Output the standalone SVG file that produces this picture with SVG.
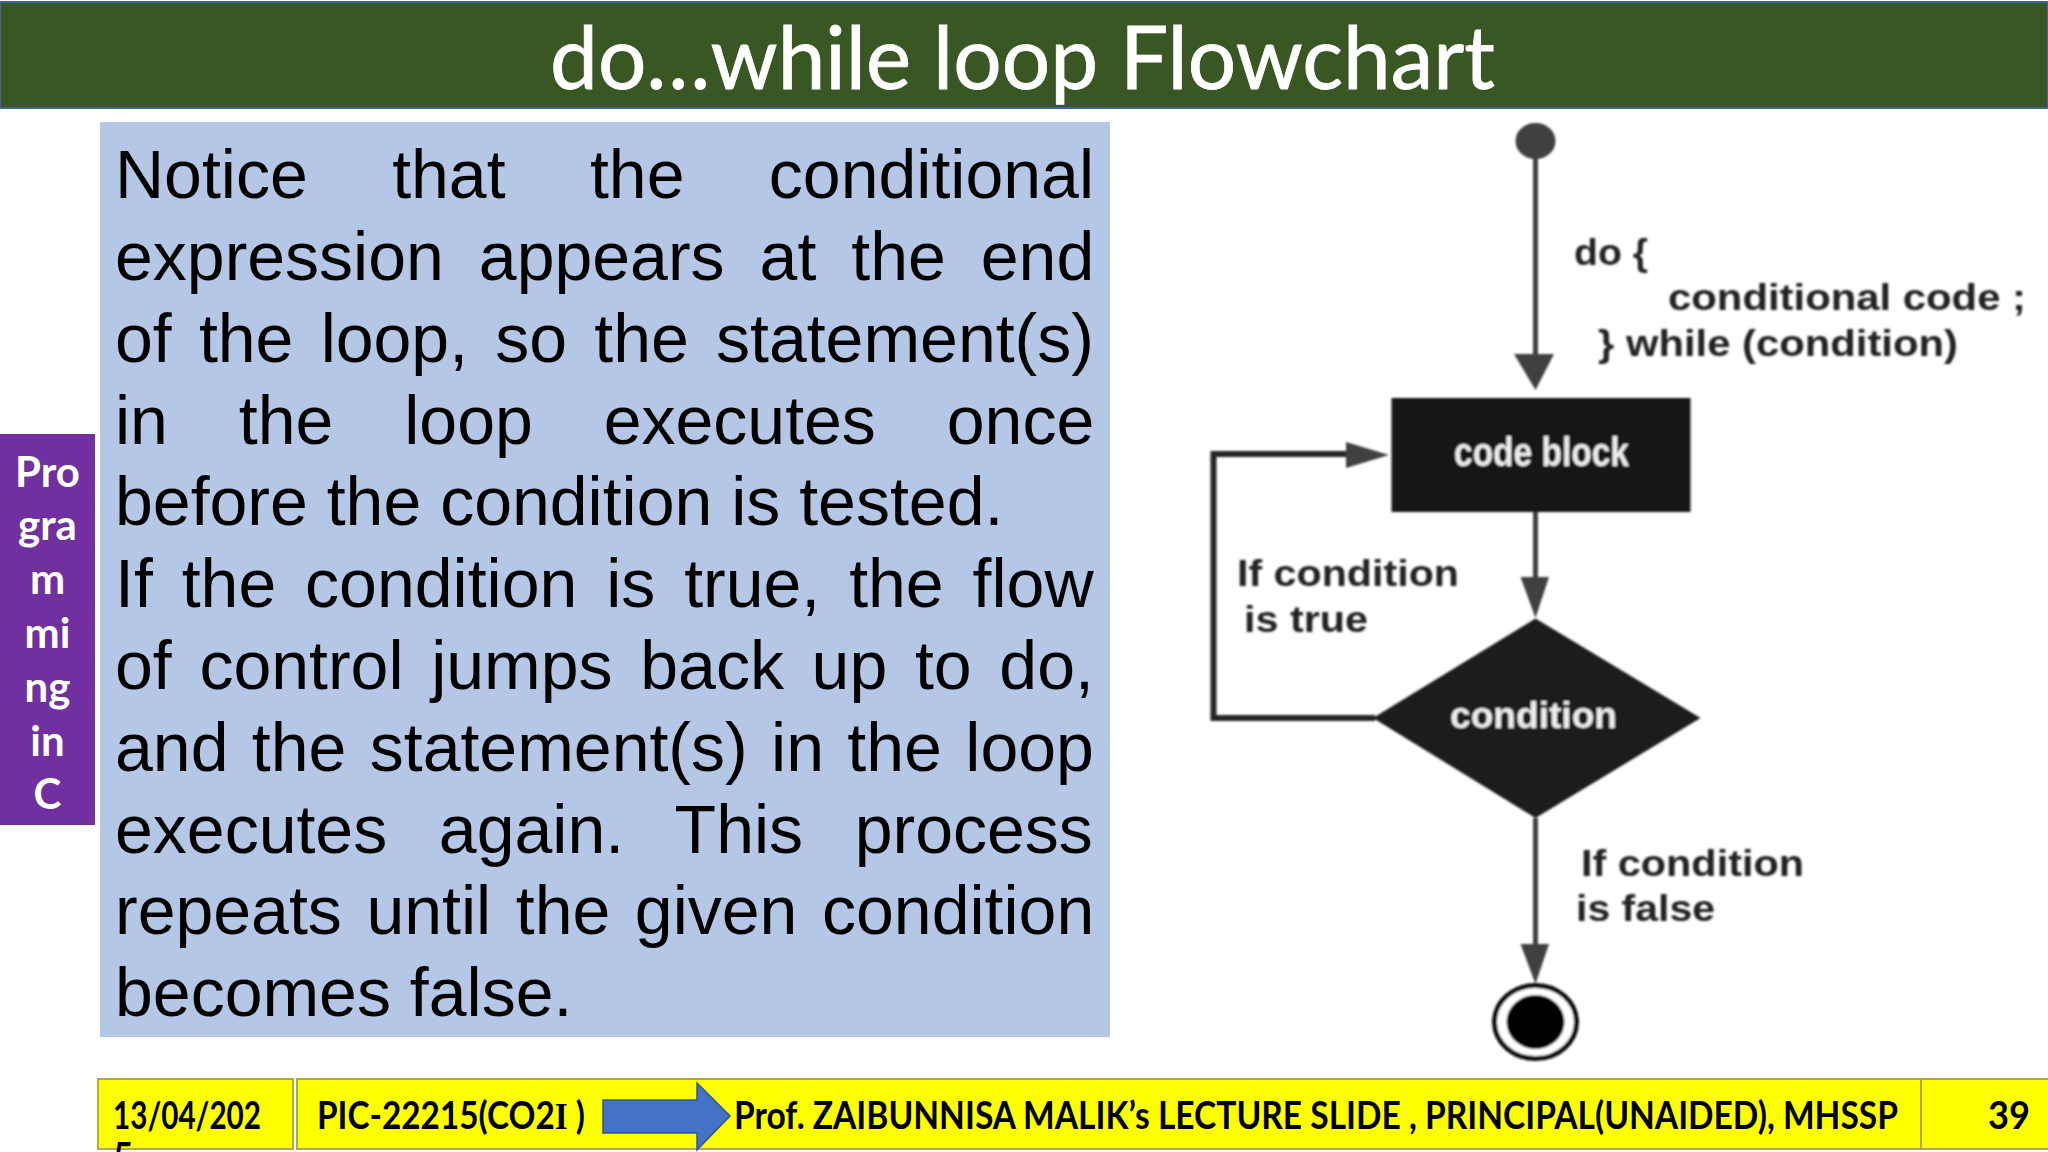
<svg xmlns="http://www.w3.org/2000/svg" width="2048" height="1152" viewBox="0 0 2048 1152">
<defs><filter id="soft" x="-5%" y="-5%" width="110%" height="110%"><feGaussianBlur stdDeviation="0.8"/></filter></defs>
<style>
.body{font-family:"Liberation Sans",Arial,sans-serif;font-size:68px;fill:#000}
.side{font-family:Lato,"Open Sans",sans-serif;font-weight:700;font-size:42px;fill:#fff;text-anchor:middle}
.foot{font-family:Lato,"Open Sans",sans-serif;font-weight:700;font-size:35px;fill:#000}
.fc{font-family:"Liberation Sans",Arial,sans-serif;font-weight:700;font-size:37px;fill:#222}
.fcw{fill:#eee}
.cell{fill:#ff0;stroke:#b5ab3c;stroke-width:2}
.wire{fill:none;stroke:#404040;stroke-width:5}
.head{fill:#404040}
</style>
<rect width="2048" height="1152" fill="#fff"/>
<g id="title">
<rect x="0" y="2" width="2048" height="106" fill="#385723" stroke="#41659c" stroke-width="2"/>
<text x="550" y="89" font-family="Lato,'Open Sans',sans-serif" font-size="88" fill="#fff" stroke="#fff" stroke-width="0.8" textLength="945" lengthAdjust="spacingAndGlyphs">do…while loop Flowchart</text>
</g>
<g id="side-label">
<rect x="0" y="434" width="95" height="391" fill="#7030a0"/>
<text class="side" x="47.5" y="487">Pro</text>
<text class="side" x="47.5" y="540">gra</text>
<text class="side" x="47.5" y="594">m</text>
<text class="side" x="47.5" y="648">mi</text>
<text class="side" x="47.5" y="702">ng</text>
<text class="side" x="47.5" y="756">in</text>
<text class="side" x="47.5" y="809">C</text>
</g>
<g id="explanation">
<rect x="100" y="122" width="1010" height="915" fill="#b4c7e7"/>
<text class="body" x="115" y="198" word-spacing="65.5">Notice that the conditional</text>
<text class="body" x="115" y="280" word-spacing="16.1">expression appears at the end</text>
<text class="body" x="115" y="362" word-spacing="8.3">of the loop, so the statement(s)</text>
<text class="body" x="115" y="444" word-spacing="52">in the loop executes once</text>
<text class="body" x="115" y="525">before the condition is tested.</text>
<text class="body" x="115" y="607" word-spacing="10">If the condition is true, the flow</text>
<text class="body" x="115" y="689" word-spacing="8.8">of control jumps back up to do,</text>
<text class="body" x="115" y="771" word-spacing="4.5">and the statement(s) in the loop</text>
<text class="body" x="115" y="853" word-spacing="32.8">executes again. This process</text>
<text class="body" x="115" y="934" word-spacing="5.7">repeats until the given condition</text>
<text class="body" x="115" y="1016">becomes false.</text>
</g>
<g filter="url(#soft)">
<g id="connectors">
<path class="wire" d="M1535.5 158V356"/>
<polygon class="head" points="1514,354 1554,354 1535.5,390"/>
<path class="wire" d="M1535.5 512V580"/>
<polygon class="head" points="1520.5,577 1549,577 1535.5,618"/>
<path class="wire" style="stroke:#262626;stroke-width:6" d="M1375 718H1213.5V454H1350"/>
<polygon class="head" points="1346,442 1389,455 1346,468"/>
<path class="wire" d="M1535.5 818V946"/>
<polygon class="head" points="1520.5,944 1549,944 1535.5,984"/>
</g>
<g id="start"><ellipse cx="1535.5" cy="141" rx="20" ry="18" fill="#404040"/></g>
<g id="code-block">
<rect x="1391.5" y="398" width="299" height="114" fill="#161616"/>
<text class="fc fcw" x="1454" y="466" textLength="175" lengthAdjust="spacingAndGlyphs" style="font-size:41px">code block</text>
</g>
<g id="condition">
<polygon points="1535.5,618.5 1700.5,718 1535.5,818 1373,718" fill="#1c1c1c"/>
<text class="fc fcw" x="1450" y="728" textLength="167" lengthAdjust="spacingAndGlyphs">condition</text>
</g>
<g id="end">
<ellipse cx="1535.5" cy="1022" rx="41" ry="36.5" fill="#fff" stroke="#111" stroke-width="5"/>
<ellipse cx="1535.5" cy="1022" rx="29" ry="27" fill="#000"/>
</g>
<g id="labels">
<text class="fc" x="1574" y="265" textLength="74" lengthAdjust="spacingAndGlyphs">do {</text>
<text class="fc" x="1668" y="310" textLength="358" lengthAdjust="spacingAndGlyphs">conditional code ;</text>
<text class="fc" x="1598" y="356" textLength="360" lengthAdjust="spacingAndGlyphs">} while (condition)</text>
<text class="fc" x="1237" y="586" textLength="222" lengthAdjust="spacingAndGlyphs">If condition</text>
<text class="fc" x="1244" y="632" textLength="124" lengthAdjust="spacingAndGlyphs">is true</text>
<text class="fc" x="1581" y="876" textLength="223" lengthAdjust="spacingAndGlyphs">If condition</text>
<text class="fc" x="1576" y="921" textLength="139" lengthAdjust="spacingAndGlyphs">is false</text>
</g>
</g>
<g id="footer">
<rect class="cell" x="98" y="1079" width="195" height="70"/>
<rect class="cell" x="297" y="1079" width="1624" height="70"/>
<rect class="cell" x="1921" y="1079" width="130" height="70"/>
<polygon points="603,1100 697,1100 697,1083 730,1116 697,1150 697,1133 603,1133" fill="#4472c4" stroke="#2f5597" stroke-width="1.5"/>
<text class="foot" transform="translate(113 1129) scale(1 1.086)" textLength="148" lengthAdjust="spacingAndGlyphs">13/04/202</text>
<text class="foot" transform="translate(113 1170) scale(1 1.086)">5</text>
<text class="foot" transform="translate(317 1129) scale(1 1.086)" textLength="268" lengthAdjust="spacingAndGlyphs">PIC-22215(CO2<tspan font-family="'Liberation Serif',serif">I</tspan> )</text>
<text class="foot" transform="translate(734 1129) scale(1 1.086)" textLength="1164" lengthAdjust="spacingAndGlyphs">Prof. ZAIBUNNISA MALIK’s LECTURE SLIDE , PRINCIPAL(UNAIDED), MHSSP</text>
<text class="foot" transform="translate(1988 1129) scale(1 1.086)" textLength="42" lengthAdjust="spacingAndGlyphs">39</text>
</g>
</svg>
